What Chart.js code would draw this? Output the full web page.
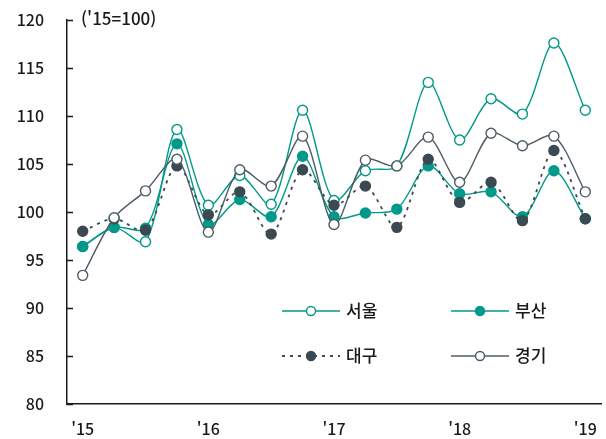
<!DOCTYPE html>
<html lang="ko">
  <head>
    <meta charset="UTF-8" />
    <title>지역별 지수</title>
    <script src="https://cdn.jsdelivr.net/npm/chart.js@4.4.1/dist/chart.umd.min.js"></script>
    <style>
      html, body { margin: 0; padding: 0; background: #fff; }
      #wrap { width: 606px; height: 439px; position: relative; }
    </style>
  </head>
  <body>
    <div id="wrap"><canvas id="myChart"></canvas></div>

    <script>
      // quarterly, '15 Q1 .. '19 Q1
      const quarters = ["'15", '', '', '', "'16", '', '', '', "'17", '', '', '', "'18", '', '', '', "'19"]
      const seoul = [96.4, 98.4, 96.9, 108.6, 100.7, 103.8, 100.8, 110.6, 101.2, 104.3, 104.8, 113.5, 107.5, 111.8, 110.2, 117.6, 110.6]
      const busan = [96.4, 98.4, 98.3, 107.1, 98.7, 101.3, 99.5, 105.8, 99.5, 99.9, 100.3, 104.8, 101.9, 102.1, 99.5, 104.3, 99.3]
      const daegu = [98.0, 99.3, 98.1, 104.8, 99.7, 102.1, 97.7, 104.4, 100.7, 102.7, 98.4, 105.5, 101.0, 103.1, 99.1, 106.4, 99.3]
      const gyeonggi = [93.4, 99.4, 102.2, 105.5, 97.9, 104.4, 102.7, 107.9, 98.7, 105.4, 104.8, 107.8, 103.1, 108.2, 106.9, 107.9, 102.1]
      const unitText = "('15=100)"

      const teal = '#00998a'
      const dark = '#3b4a52'
      const grey = '#4d5c64'
      const fontFam = "'Noto Sans CJK KR', 'Noto Sans', sans-serif"

      Chart.defaults.font.family = fontFam
      Chart.defaults.font.size = 16
      Chart.defaults.font.weight = '500'
      Chart.defaults.color = '#1a1a1a'

      const legendItems = [
        { text: '서울', color: teal, fill: '#fff', dash: [], col: 0, row: 0 },
        { text: '부산', color: teal, fill: teal, dash: [], col: 1, row: 0 },
        { text: '대구', color: dark, fill: dark, dash: [3, 5], col: 0, row: 1 },
        { text: '경기', color: grey, fill: '#fff', dash: [], col: 1, row: 1 },
      ]

      // inside tick marks, unit label and the 2x2 legend
      const extras = {
        id: 'extras',
        afterDraw(chart) {
          const ctx = chart.ctx
          const y = chart.scales.y
          const area = chart.chartArea
          ctx.save()
          ctx.strokeStyle = '#1a1a1a'
          ctx.lineWidth = 1.5
          y.ticks.forEach((t) => {
            const py = Math.round(y.getPixelForValue(t.value)) + 0.5
            ctx.beginPath()
            ctx.moveTo(area.left, py)
            ctx.lineTo(area.left + 6, py)
            ctx.stroke()
          })

          ctx.fillStyle = '#1a1a1a'
          ctx.font = '500 17px ' + fontFam
          ctx.textBaseline = 'middle'
          ctx.textAlign = 'left'
          ctx.fillText(unitText, 81, 19)

          legendItems.forEach((it) => {
            const x0 = 282 + it.col * 169
            const ly = 311 + it.row * 45
            ctx.strokeStyle = it.color
            ctx.lineWidth = it.dash.length ? 1.8 : 1.4
            ctx.setLineDash(it.dash)
            ctx.beginPath()
            ctx.moveTo(x0, ly)
            ctx.lineTo(x0 + 58, ly)
            ctx.stroke()
            ctx.setLineDash([])
            ctx.lineWidth = 1.4
            ctx.beginPath()
            ctx.arc(x0 + 29, ly, 4.5, 0, Math.PI * 2)
            ctx.fillStyle = it.fill
            ctx.fill()
            ctx.stroke()
            ctx.fillStyle = '#1a1a1a'
            ctx.font = '500 17px ' + fontFam
            ctx.fillText(it.text, x0 + 64, ly)
          })
          ctx.restore()
        },
      }

      function series(label, data, color, fill, dash, order) {
        return {
          label: label,
          data: data,
          borderColor: color,
          borderWidth: dash.length ? 1.8 : 1.4,
          borderDash: dash,
          backgroundColor: fill,
          pointBackgroundColor: fill,
          pointBorderColor: color,
          pointBorderWidth: 1.4,
          pointRadius: 5,
          tension: 0.3,
          order: order,
        }
      }

      new Chart('myChart', {
        type: 'line',
        data: {
          labels: quarters,
          datasets: [
            series('서울', seoul, teal, '#fff', [], 3),
            series('부산', busan, teal, teal, [], 2),
            series('대구', daegu, dark, dark, [3, 5], 1),
            series('경기', gyeonggi, grey, '#fff', [], 0),
          ],
        },
        options: {
          responsive: true,
          maintainAspectRatio: false,
          animation: false,
          layout: { autoPadding: false, padding: { top: 20, right: 5, bottom: 0, left: 0 } },
          plugins: { legend: { display: false }, tooltip: { enabled: false } },
          scales: {
            x: {
              offset: true,
              grid: { display: false, drawTicks: false },
              border: { color: '#1a1a1a', width: 1.5 },
              ticks: { autoSkip: false, maxRotation: 0, padding: 15 },
              afterFit(scale) {
                scale.height = 35
                scale.paddingLeft = 0
                scale.paddingRight = 0
              },
            },
            y: {
              min: 80,
              max: 120,
              grid: { display: false, drawTicks: false },
              border: { color: '#1a1a1a', width: 1.5 },
              ticks: { stepSize: 5, padding: 23 },
              afterFit(scale) {
                scale.width = 67
                scale.paddingTop = 0
                scale.paddingBottom = 0
              },
            },
          },
        },
        plugins: [extras],
      })
    </script>
  </body>
</html>
